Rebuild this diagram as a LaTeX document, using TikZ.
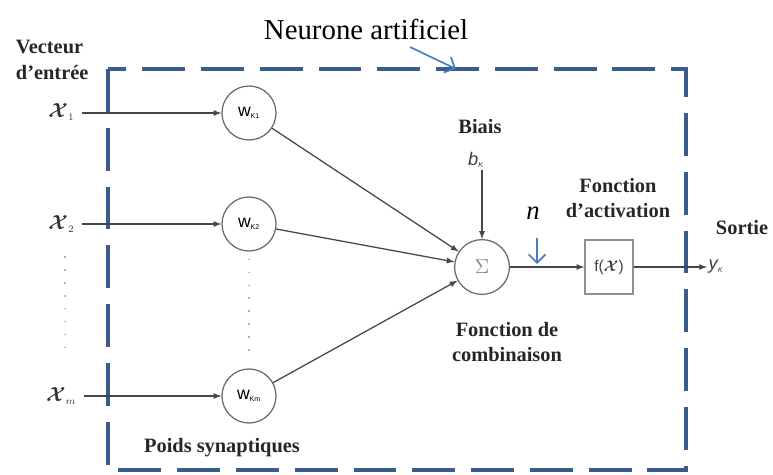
\documentclass[tikz,border=0pt]{standalone}
\usepackage{fontspec}
\setmainfont{Liberation Serif}
\setsansfont{Liberation Sans}
\usepackage{amsmath,bm}
\usetikzlibrary{arrows,arrows.meta,positioning,shapes}
\definecolor{boxblue}{RGB}{58,92,140}
\definecolor{arrowblue}{RGB}{70,125,190}
\definecolor{wiregray}{RGB}{70,70,70}

\begin{document}
\begin{tikzpicture}[x=0.025cm,y=-0.025cm,
  wire/.style={draw=wiregray,line width=0.9pt,-latex},
  weight/.style={circle,draw=wiregray!80,line width=0.9pt,minimum size=1.35cm,inner sep=0pt,font=\sffamily\fontsize{12.5}{12}\selectfont},
  fbox/.style={rectangle,draw=wiregray!60,line width=0.9pt,minimum width=1.2cm,minimum height=1.35cm,inner sep=0pt},
  lbl/.style={font=\bfseries\fontsize{14.5}{18.4}\selectfont,text=black!85,align=center},
  inp/.style={font=\fontsize{14}{14}\selectfont,text=black!80,inner sep=1pt},
  dots/.style={draw=gray!60,line width=1.2pt,dash pattern=on 1.2pt off 8pt},
  bluearrow/.style={draw=arrowblue,line width=1.2pt,-{Straight Barb[length=6pt,width=12pt]}}]
  \useasboundingbox (0,0) rectangle (773,474);

  % cadre du neurone
  \draw[boxblue,line width=2.8pt,dash pattern=on 30.5pt off 11.3pt] (108,69) rectangle (686,470);
  \node (title) at (366,29) {\fontsize{20.5}{20.5}\selectfont Neurone artificiel};
  \coordinate (ta) at (410,47);
  \coordinate (tb) at (456,69);
  \draw[bluearrow] (ta) -- (tb);

  \node[lbl,align=left,anchor=west] (vect) at (11,60) {Vecteur\\d’entrée};

  % poids
  \node[weight] (w1) at (249,113) {w\textsubscript{\tiny K1}};
  \node[weight] (w2) at (249,224) {w\textsubscript{\tiny K2}};
  \node[weight] (wm) at (249,396) {w\textsubscript{\tiny Km}};

  % entrees
  \node[inp,anchor=east] (x1) at (76,112) {$\bm{\mathcal{X}}_{\scriptscriptstyle 1}$};
  \node[inp,anchor=east] (x2) at (76,224) {$\bm{\mathcal{X}}_{\scriptscriptstyle 2}$};
  \node[inp,anchor=east] (xm) at (78,396) {$\bm{\mathcal{X}}_{\scriptscriptstyle m}$};
  \foreach \i in {1,2,m}{
    \draw[wire,shorten <=4pt] (x\i.east |- w\i) -- (w\i.west);
  }
  \draw[dots] (65,256) -- (65,350);
  \draw[dots,shorten <=5pt,shorten >=12pt] (w2.south) -- (wm.north);

  % sommation
  \node[circle,draw=wiregray!80,line width=0.9pt,minimum size=1.37cm,inner sep=0pt] (sum) at (482,267) {\textcolor{gray}{\Large$\Sigma$}};
  \foreach \i in {1,2,m}{
    \draw[wire] (w\i) -- (sum);
  }
  \node[lbl] (biais) at (480,127) {Biais};
  \node[inner sep=1pt] (b) at (476,160) {\sffamily\itshape\fontsize{13}{13}\selectfont\textcolor{black!75}{b\textsubscript{\tiny K}}};
  \draw[wire] (b.south -| sum) -- (sum);

  % activation
  \node[fbox] (f) at (609,267) {\sffamily\fontsize{11}{11}\selectfont\textcolor{black!75}{f($\bm{\mathcal{X}}$)}};
  \draw[wire] (sum) -- (f);
  \node[anchor=west,inner sep=1pt] (y) at (707,267) {\sffamily\itshape\fontsize{13}{13}\selectfont\textcolor{black!75}{y\textsubscript{\tiny K}}};
  \draw[wire] (f) -- (y.west |- f);

  \node (n) at (533,213) {\fontsize{19}{19}\selectfont\itshape n};
  \coordinate (na) at (537,238);
  \coordinate (nb) at (537,264);
  \draw[bluearrow] (na) -- (nb);

  \node[lbl] (act) at (618,198) {Fonction\\d’activation};
  \node[lbl] (sortie) at (742,228) {Sortie};
  \node[lbl] (comb) at (507,342) {Fonction de\\combinaison};
  \node[lbl] (poids) at (222,448) {Poids synaptiques};
\end{tikzpicture}
\end{document}
